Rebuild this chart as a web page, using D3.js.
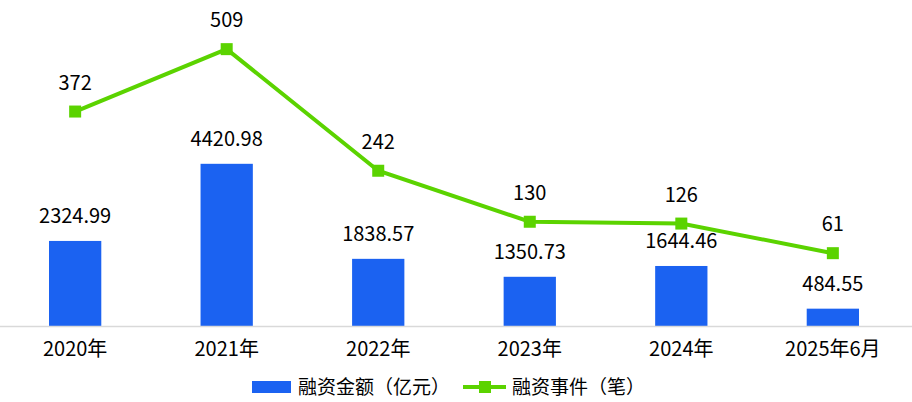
<!DOCTYPE html>
<html>
<head>
<meta charset="utf-8">
<script src="https://cdn.jsdelivr.net/npm/d3@7"></script>
<style>
	body { margin: 0; background: #fff; }
	svg text { font-family: "Noto Sans CJK SC", "Noto Sans", sans-serif; fill: #000; }
</style>
</head>
<body>
<svg id="chart" width="912" height="402"></svg>
<script>
// chart data
const years = ["2020年", "2021年", "2022年", "2023年", "2024年", "2025年6月"];
const amounts = [2324.99, 4420.98, 1838.57, 1350.73, 1644.46, 484.55];
const deals = [372, 509, 242, 130, 126, 61];
const legendNames = ["融资金额（亿元）", "融资事件（笔）"];

const blue = "#1b62f1";
const green = "#5bd300";

const svg = d3.select("#chart");
const width = +svg.attr("width");

const baseY = 326.5;

const x = d3.scaleBand().domain(years).range([-1, 909]).paddingInner(0.655).paddingOuter(0.33);
const xc = (d) => x(d) + x.bandwidth() / 2;

// bar axis (left) and deal axis (right, hidden)
const yBar = d3.scaleLinear().domain([0, 5000]).range([baseY, 142.5]);
const yLine = d3.scaleLinear().domain([-100, 600]).range([baseY, 7.7]);

// bars
svg.append("g")
	.selectAll("rect")
	.data(amounts)
	.join("rect")
	.attr("x", (d, i) => x(years[i]))
	.attr("width", x.bandwidth())
	.attr("y", (d) => yBar(d))
	.attr("height", (d) => baseY - yBar(d))
	.attr("fill", blue);

// x axis
const xAxis = svg.append("g")
	.attr("transform", `translate(0,${baseY})`)
	.call(d3.axisBottom(x).tickSize(0).tickPadding(15));
xAxis.select(".domain").attr("stroke", "#d9d9d9").attr("stroke-width", 1.5)
	.attr("d", `M0,0H${width}`);
xAxis.selectAll("text").style("font-size", "20px")
	.style("font-family", '"Noto Sans CJK SC", sans-serif').attr("fill", "#000");

// bar labels
svg.append("g")
	.selectAll("text")
	.data(amounts)
	.join("text")
	.attr("x", (d, i) => xc(years[i]))
	.attr("y", (d) => yBar(d) - 18)
	.attr("text-anchor", "middle")
	.style("font-size", "20px")
	.text((d) => d.toFixed(2));

// line
svg.append("path")
	.datum(deals)
	.attr("fill", "none")
	.attr("stroke", green)
	.attr("stroke-width", 4)
	.attr("d", d3.line().x((d, i) => xc(years[i])).y((d) => yLine(d)));

svg.append("g")
	.selectAll("rect")
	.data(deals)
	.join("rect")
	.attr("x", (d, i) => xc(years[i]) - 6)
	.attr("y", (d) => yLine(d) - 6)
	.attr("width", 12)
	.attr("height", 12)
	.attr("fill", green);

svg.append("g")
	.selectAll("text")
	.data(deals)
	.join("text")
	.attr("x", (d, i) => xc(years[i]))
	.attr("y", (d) => yLine(d) - 22)
	.attr("text-anchor", "middle")
	.style("font-size", "20px")
	.text((d) => d);

// legend
const legend = svg.append("g").attr("transform", "translate(252,387)");
legend.append("rect")
	.attr("x", 0).attr("y", -6)
	.attr("width", 39).attr("height", 12)
	.attr("fill", blue);
legend.append("text")
	.attr("x", 46).attr("y", 7)
	.style("font-size", "19px")
	.text(legendNames[0]);
legend.append("line")
	.attr("x1", 211).attr("x2", 254)
	.attr("y1", 0).attr("y2", 0)
	.attr("stroke", green).attr("stroke-width", 4);
legend.append("rect")
	.attr("x", 227).attr("y", -6)
	.attr("width", 12).attr("height", 12)
	.attr("fill", green);
legend.append("text")
	.attr("x", 260).attr("y", 7)
	.style("font-size", "19px")
	.text(legendNames[1]);
</script>
</body>
</html>
